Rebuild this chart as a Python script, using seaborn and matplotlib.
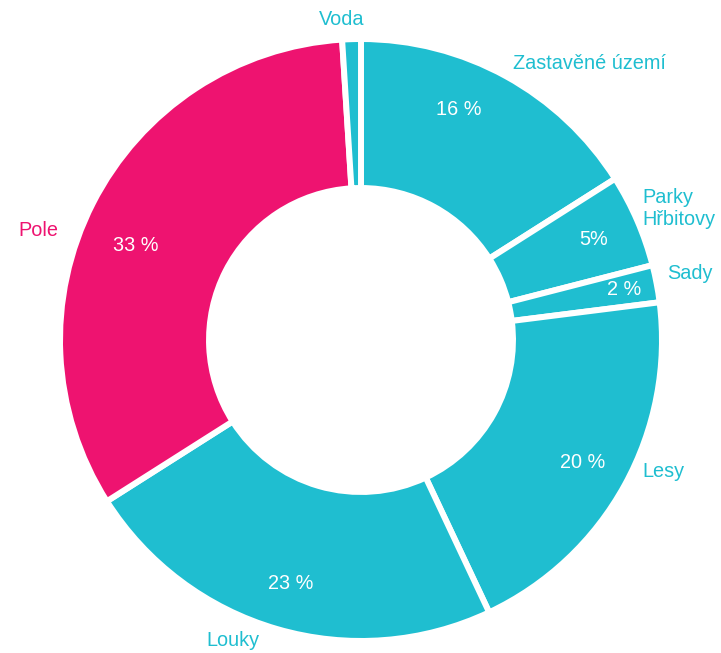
import numpy as np
import matplotlib
matplotlib.use("Agg")
import matplotlib.pyplot as plt
import seaborn as sns

# Data, clockwise from the top
kategorie = ["Zastavěné území", "Parky\nHřbitovy", "Sady", "Lesy", "Louky", "Pole", "Voda"]
podily = [16, 5, 2, 20, 23, 33, 1]
popisky_pct = ["16 %", "5%", "2 %", "20 %", "23 %", "33 %", ""]

sns.set_theme(style="white")
plt.rcParams['font.family'] = ['Liberation Sans', 'DejaVu Sans']

CYAN = "#1fbed0"
PINK = "#ee1370"
barvy = [PINK if k == "Pole" else CYAN for k in kategorie]

fig = plt.figure(figsize=(7.21, 6.53), dpi=100)
ax = fig.add_axes([0, 0, 1, 1])

wedges, _ = ax.pie(
    podily,
    colors=barvy,
    startangle=90,
    counterclock=False,
    radius=1.01,
    wedgeprops=dict(width=0.50, edgecolor="white", linewidth=4.3),
)

# ruční posuny popisků tam, kde se originál odchyluje od středu výseče
pct_dist = {"Sady": 0.90}
pct_shift = {"Zastavěné území": (-0.08, 0.03), "Pole": (0.0, -0.07)}
lab_shift = {"Pole": (-0.07, -0.115), "Lesy": (0.017, 0.07), "Louky": (-0.046, 0.011),
             "Voda": (-0.03, 0.0), "Sady": (-0.013, 0.023), "Parky\nHřbitovy": (-0.03, 0.02)}

for w, k, p in zip(wedges, kategorie, popisky_pct):
    mid = np.deg2rad((w.theta1 + w.theta2) / 2)
    c, s = np.cos(mid), np.sin(mid)
    if p:
        d = pct_dist.get(k, 0.85)
        px, py = pct_shift.get(k, (0.0, 0.0))
        ax.text(d * c + px, d * s + py, p, ha="center", va="center", color="white",
                fontsize=14.3)
    r = 1.06
    dx, dy = lab_shift.get(k, (0.0, 0.0))
    if k == "Voda":
        ha, r = "center", 1.075
    else:
        ha = "left" if c > 0 else "right"
    ax.text(r * c + dx, r * s + dy, k, ha=ha, va="center", color=w.get_facecolor(),
            fontsize=14.3, linespacing=1.15)

ax.set_xlim(-361 / 298, 360 / 298)
ax.set_ylim(-313 / 298, 340 / 298)
ax.set_aspect("auto")
ax.axis("off")

fig.savefig("out.png", dpi=100, facecolor="white")
